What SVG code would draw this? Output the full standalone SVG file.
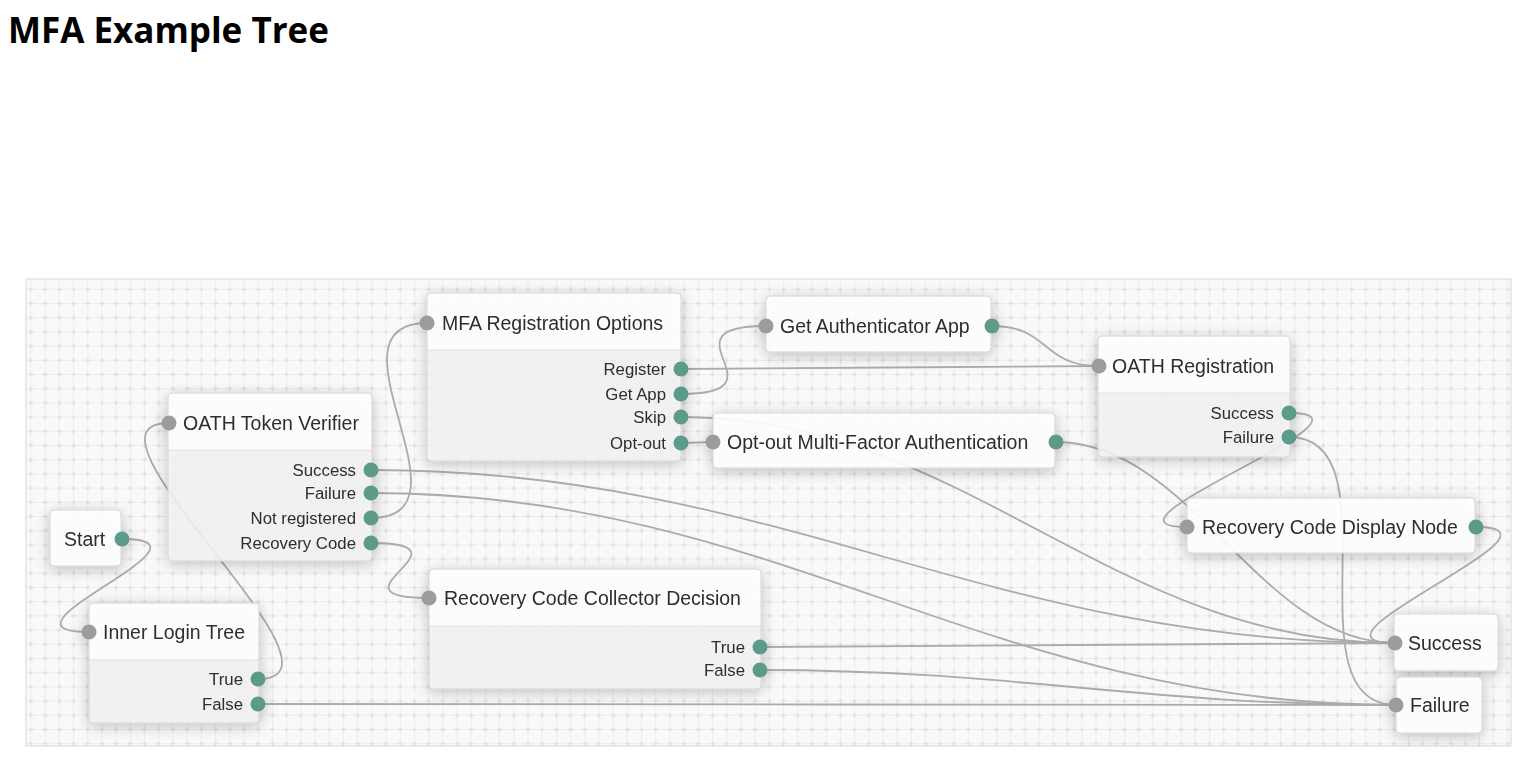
<svg xmlns="http://www.w3.org/2000/svg" width="1521" height="761" viewBox="0 0 1521 761">
<defs>
<style>
.ttl{font-family:"Liberation Sans",Arial,sans-serif;font-size:19.5px;fill:#2e2e2e}
.lbl{font-family:"Liberation Sans",Arial,sans-serif;font-size:16.8px;fill:#2e2e2e;text-anchor:end}
.hd{fill:#fff;fill-opacity:.9}
.bd{fill:#f3f3f3;fill-opacity:.86}
.fr{fill:none;stroke:#d4d4d4;stroke-width:1}
.dv{stroke:#e2e2e2;stroke-width:1}
.in{fill:#9c9c9c}
.out{fill:#5c9a89}
.cn path{fill:none;stroke:#ababab;stroke-width:1.8}
</style>
<pattern id="grid" patternUnits="userSpaceOnUse" x="23.9" y="282.2" width="14.2" height="14.2">
<path d="M7.1,0 V14.2 M0,7.1 H14.2" stroke="#eeeeee" stroke-width="1" fill="none"/>
<path d="M7.1,4.8 V9.4 M4.8,7.1 H9.4" stroke="#dedede" stroke-width="1.2" fill="none"/>
</pattern>
<filter id="sh" x="-25%" y="-45%" width="150%" height="190%">
<feDropShadow dx="0" dy="3" stdDeviation="7" flood-color="#000" flood-opacity="0.26"/>
</filter>
</defs>
<rect width="1521" height="761" fill="#fff"/>
<text x="8" y="43" font-family="'Open Sans',sans-serif" font-weight="700" font-size="35" fill="#000">MFA Example Tree</text>
<g id="canvas">
<rect x="26" y="279" width="1485" height="467" fill="#f9f9f9"/>
<rect x="26" y="279" width="1485" height="467" fill="url(#grid)" stroke="#d8d8d8" stroke-width="1"/>
</g>
<g id="connectors" class="cn">
<path d="M122,539 C232,539 -21,632 89,632"/>
<path d="M258,679 C368,679 59,423 169,423"/>
<path d="M371,518 C481,518 317,323 427,323"/>
<path d="M371,543 C481,543 319,598 429,598"/>
<path d="M371,470 C781,470 985,643 1395,643"/>
<path d="M371,493 C781,493 986,705 1396,705"/>
<path d="M258,704 C713,704 941,705 1396,705"/>
<path d="M681,369 C848,369 932,366 1099,366"/>
<path d="M681,394 C791,394 656,326 766,326"/>
<path d="M681,417 C967,417 1109,643 1395,643"/>
<path d="M681,443 L713,442"/>
<path d="M992,326 C1050,326 1041,366 1099,366"/>
<path d="M1056,442 C1192,442 1259,643 1395,643"/>
<path d="M1289,413 C1399,413 1077,527 1187,527"/>
<path d="M1289,437 C1399,437 1286,705 1396,705"/>
<path d="M1476,527 C1586,527 1285,643 1395,643"/>
<path d="M760,647 C1014,647 1141,643 1395,643"/>
<path d="M760,670 C1014,670 1142,705 1396,705"/>
</g>
<g id="start" filter="url(#sh)">
<rect class="hd" x="50" y="510" width="71" height="56" rx="4"/>
<rect class="fr" x="50" y="510" width="71" height="56" rx="4"/>
<text class="ttl" x="64" y="546">Start</text>
<circle class="out" cx="122" cy="539" r="7.5"/>
</g>
<g id="oath-token-verifier" filter="url(#sh)">
<path class="hd" d="M168,450 V397 a4,4 0 0 1 4,-4 H368 a4,4 0 0 1 4,4 V450 Z"/>
<path class="bd" d="M168,450 H372 V557 a4,4 0 0 1 -4,4 H172 a4,4 0 0 1 -4,-4 Z"/>
<line class="dv" x1="168" y1="450" x2="372" y2="450"/>
<rect class="fr" x="168" y="393" width="204" height="168" rx="4"/>
<circle class="in" cx="169" cy="423" r="7.5"/>
<text class="ttl" x="183" y="430">OATH Token Verifier</text>
<text class="lbl" x="356" y="476">Success</text>
<text class="lbl" x="356" y="499">Failure</text>
<text class="lbl" x="356" y="524">Not registered</text>
<text class="lbl" x="356" y="549">Recovery Code</text>
<circle class="out" cx="371" cy="470" r="7.5"/>
<circle class="out" cx="371" cy="493" r="7.5"/>
<circle class="out" cx="371" cy="518" r="7.5"/>
<circle class="out" cx="371" cy="543" r="7.5"/>
</g>
<g id="mfa-registration-options" filter="url(#sh)">
<path class="hd" d="M427,350 V297 a4,4 0 0 1 4,-4 H677 a4,4 0 0 1 4,4 V350 Z"/>
<path class="bd" d="M427,350 H681 V457 a4,4 0 0 1 -4,4 H431 a4,4 0 0 1 -4,-4 Z"/>
<line class="dv" x1="427" y1="350" x2="681" y2="350"/>
<rect class="fr" x="427" y="293" width="254" height="168" rx="4"/>
<circle class="in" cx="427" cy="323" r="7.5"/>
<text class="ttl" x="442" y="330">MFA Registration Options</text>
<text class="lbl" x="666" y="375">Register</text>
<text class="lbl" x="666" y="400">Get App</text>
<text class="lbl" x="666" y="423">Skip</text>
<text class="lbl" x="666" y="449">Opt-out</text>
<circle class="out" cx="681" cy="369" r="7.5"/>
<circle class="out" cx="681" cy="394" r="7.5"/>
<circle class="out" cx="681" cy="417" r="7.5"/>
<circle class="out" cx="681" cy="443" r="7.5"/>
</g>
<g id="get-authenticator-app" filter="url(#sh)">
<rect class="hd" x="766" y="296" width="225" height="56" rx="4"/>
<rect class="fr" x="766" y="296" width="225" height="56" rx="4"/>
<circle class="in" cx="766" cy="326" r="7.5"/>
<text class="ttl" x="780" y="333">Get Authenticator App</text>
<circle class="out" cx="992" cy="326" r="7.5"/>
</g>
<g id="opt-out-mfa" filter="url(#sh)">
<rect class="hd" x="713" y="413" width="342" height="55" rx="4"/>
<rect class="fr" x="713" y="413" width="342" height="55" rx="4"/>
<circle class="in" cx="713" cy="442" r="7.5"/>
<text class="ttl" x="727" y="449">Opt-out Multi-Factor Authentication</text>
<circle class="out" cx="1056" cy="442" r="7.5"/>
</g>
<g id="oath-registration" filter="url(#sh)">
<path class="hd" d="M1098,393 V340 a4,4 0 0 1 4,-4 H1286 a4,4 0 0 1 4,4 V393 Z"/>
<path class="bd" d="M1098,393 H1290 V453 a4,4 0 0 1 -4,4 H1102 a4,4 0 0 1 -4,-4 Z"/>
<line class="dv" x1="1098" y1="393" x2="1290" y2="393"/>
<rect class="fr" x="1098" y="336" width="192" height="121" rx="4"/>
<circle class="in" cx="1099" cy="366" r="7.5"/>
<text class="ttl" x="1112" y="373">OATH Registration</text>
<text class="lbl" x="1274" y="419">Success</text>
<text class="lbl" x="1274" y="443">Failure</text>
<circle class="out" cx="1289" cy="413" r="7.5"/>
<circle class="out" cx="1289" cy="437" r="7.5"/>
</g>
<g id="recovery-code-display-node" filter="url(#sh)">
<rect class="hd" x="1187" y="498" width="288" height="55" rx="4"/>
<rect class="fr" x="1187" y="498" width="288" height="55" rx="4"/>
<circle class="in" cx="1187" cy="527" r="7.5"/>
<text class="ttl" x="1202" y="534">Recovery Code Display Node</text>
<circle class="out" cx="1476" cy="527" r="7.5"/>
</g>
<g id="inner-login-tree" filter="url(#sh)">
<path class="hd" d="M89,660 V607 a4,4 0 0 1 4,-4 H255 a4,4 0 0 1 4,4 V660 Z"/>
<path class="bd" d="M89,660 H259 V719 a4,4 0 0 1 -4,4 H93 a4,4 0 0 1 -4,-4 Z"/>
<line class="dv" x1="89" y1="660" x2="259" y2="660"/>
<rect class="fr" x="89" y="603" width="170" height="120" rx="4"/>
<circle class="in" cx="89" cy="632" r="7.5"/>
<text class="ttl" x="103" y="639">Inner Login Tree</text>
<text class="lbl" x="243" y="685">True</text>
<text class="lbl" x="243" y="710">False</text>
<circle class="out" cx="258" cy="679" r="7.5"/>
<circle class="out" cx="258" cy="704" r="7.5"/>
</g>
<g id="recovery-code-collector-decision" filter="url(#sh)">
<path class="hd" d="M429,626 V573 a4,4 0 0 1 4,-4 H757 a4,4 0 0 1 4,4 V626 Z"/>
<path class="bd" d="M429,626 H761 V685 a4,4 0 0 1 -4,4 H433 a4,4 0 0 1 -4,-4 Z"/>
<line class="dv" x1="429" y1="626" x2="761" y2="626"/>
<rect class="fr" x="429" y="569" width="332" height="120" rx="4"/>
<circle class="in" cx="429" cy="598" r="7.5"/>
<text class="ttl" x="444" y="605">Recovery Code Collector Decision</text>
<text class="lbl" x="745" y="653">True</text>
<text class="lbl" x="745" y="676">False</text>
<circle class="out" cx="760" cy="647" r="7.5"/>
<circle class="out" cx="760" cy="670" r="7.5"/>
</g>
<g id="success" filter="url(#sh)">
<rect class="hd" x="1394" y="614" width="104" height="57" rx="4"/>
<rect class="fr" x="1394" y="614" width="104" height="57" rx="4"/>
<circle class="in" cx="1395" cy="643" r="7.5"/>
<text class="ttl" x="1408" y="650">Success</text>
</g>
<g id="failure" filter="url(#sh)">
<rect class="hd" x="1396" y="677" width="86" height="56" rx="4"/>
<rect class="fr" x="1396" y="677" width="86" height="56" rx="4"/>
<circle class="in" cx="1396" cy="705" r="7.5"/>
<text class="ttl" x="1410" y="712">Failure</text>
</g>
</svg>
